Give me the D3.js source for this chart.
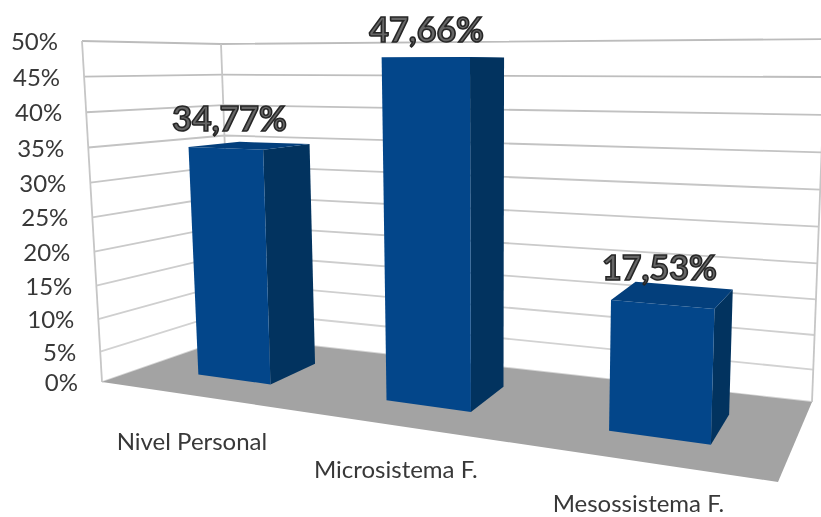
<!DOCTYPE html>
<html>
<head>
<meta charset="utf-8">
<script src="https://cdn.jsdelivr.net/npm/d3@7"></script>
<style>
html,body{margin:0;padding:0;background:#fff;overflow:hidden}
svg{display:block;filter:blur(0.35px)}
text{font-family:Lato,"Open Sans",sans-serif}
</style>
</head>
<body>
<svg id="chart" width="821" height="517"></svg>
<script>
const categories = ["Nivel Personal", "Microsistema F.", "Mesossistema F."];
const values = [34.77, 47.66, 17.53];
const yTicks = [0, 5, 10, 15, 20, 25, 30, 35, 40, 45, 50];

const svg = d3.select("#chart");

// 3D box corners on screen (front/back, left/right, floor/top)
const box = {
  floor: { fl: [102, 382], fr: [778, 482], bl: [232, 337], br: [812, 402] },
  top:   { fl: [82, 41],   fr: [793, 34],  bl: [221, 44],  br: [826, 39] }
};
const mix = (a, b, t) => [a[0] + (b[0] - a[0]) * t, a[1] + (b[1] - a[1]) * t];
const planePoint = (p, u, v) => mix(mix(p.fl, p.fr, u), mix(p.bl, p.br, u), v);
const project = (u, v, h) => mix(planePoint(box.floor, u, v), planePoint(box.top, u, v), h);

// Scales: value → height, category → band, band → foreshortened width, depth
const yScale = d3.scalePow().exponent(1.05).domain([0, 50]).range([0, 1]);
const band = d3.scaleBand().domain(categories).range([0, 1]).paddingInner(0.61).paddingOuter(0.305);
const xWarp = d3.scaleLinear()
  .domain([0, 0.1017, 0.2317, 0.435, 0.565, 0.768, 0.898, 1])
  .range([0, 0.083, 0.195, 0.375, 0.506, 0.72, 0.878, 1]);
const depth = d3.scaleLinear().domain([0, 1]).range([0.33, 0.73]);

const poly = d3.line();
const face = pts => poly(pts) + "Z";

// Walls
const wall = svg.append("g");
wall.append("path").attr("fill", "#fff")
  .attr("d", face([box.top.fl, box.top.bl, box.top.br, box.floor.br, box.floor.bl, box.floor.fl]));

const gridColor = d3.scaleLinear().domain([0, 50]).range(["#d4d4d4", "#bcbcbc"]);
const gridLines = wall.append("g").attr("fill", "none").attr("stroke-width", 1.8);
gridLines.selectAll("path.grid").data(yTicks).join("path")
  .attr("class", "grid")
  .attr("stroke", d => gridColor(d))
  .attr("d", d => {
    const h = yScale(d);
    return poly([project(0, 0, h), project(0, 1, h), project(1, 1, h)]);
  });
gridLines.selectAll("path.edge").data([[0, 0], [0, 1], [1, 1]]).join("path")
  .attr("class", "edge")
  .attr("stroke", "#c6c6c6")
  .attr("d", d => poly([project(d[0], d[1], 0), project(d[0], d[1], 1)]));

// Floor
svg.append("path").attr("fill", "#a3a3a3")
  .attr("d", face([box.floor.fl, box.floor.bl, box.floor.br, box.floor.fr]));

// Bars
const bars = svg.append("g").selectAll("g").data(categories).join("g");
const corners = (c, i) => {
  const u0 = xWarp(band(c)), u1 = xWarp(band(c) + band.bandwidth());
  const v0 = depth(0), v1 = depth(1), h = yScale(values[i]);
  return { u0, u1, v0, v1, h };
};
bars.append("path").attr("fill", "#02335f")
  .attr("d", (c, i) => { const k = corners(c, i);
    return face([project(k.u1, k.v0, 0), project(k.u1, k.v1, 0), project(k.u1, k.v1, k.h), project(k.u1, k.v0, k.h)]); });
bars.append("path").attr("fill", "#03468a")
  .attr("d", (c, i) => { const k = corners(c, i);
    return face([project(k.u0, k.v0, 0), project(k.u1, k.v0, 0), project(k.u1, k.v0, k.h), project(k.u0, k.v0, k.h)]); });
bars.append("path").attr("fill", "#033f7c")
  .attr("d", (c, i) => { const k = corners(c, i);
    return face([project(k.u0, k.v0, k.h), project(k.u1, k.v0, k.h), project(k.u1, k.v1, k.h), project(k.u0, k.v1, k.h)]); });

// Value axis labels
svg.append("g").selectAll("text").data(yTicks).join("text")
  .attr("text-anchor", "end")
  .attr("font-size", 24)
  .attr("fill", "#383838")
  .attr("x", d => project(0, 0, yScale(d))[0] - 24)
  .attr("y", d => project(0, 0, yScale(d))[1] + 9)
  .text(d => d + "%");

// Category labels
svg.append("g").selectAll("text").data(categories).join("text")
  .attr("text-anchor", "middle")
  .attr("font-size", 24)
  .attr("fill", "#383838")
  .attr("x", c => { const u = xWarp(band(c) + band.bandwidth() / 2); return project(u, 0, 0)[0] - 4; })
  .attr("y", c => { const u = xWarp(band(c) + band.bandwidth() / 2); return project(u, 0, 0)[1] + 55 - 6.5 * u; })
  .text(c => c);

// Data labels
const pct = d3.formatLocale({ decimal: ",", thousands: ".", grouping: [3], currency: ["", ""] }).format(".2f");
svg.append("g").selectAll("text").data(categories).join("text")
  .attr("text-anchor", "middle")
  .attr("font-size", 34)
  .attr("font-weight", 700)
  .attr("fill", "#666")
  .attr("stroke", "#262626")
  .attr("stroke-width", 1.6)
  .attr("x", (c, i) => { const k = corners(c, i); const u = (k.u0 + k.u1) / 2; return project(u, (k.v0 + k.v1) / 2, k.h)[0] - 22 + 10 * u; })
  .attr("y", (c, i) => { const k = corners(c, i); return project((k.u0 + k.u1) / 2, (k.v0 + k.v1) / 2, k.h)[1] - 15; })
  .text((c, i) => pct(values[i]) + "%");
</script>
</body>
</html>
